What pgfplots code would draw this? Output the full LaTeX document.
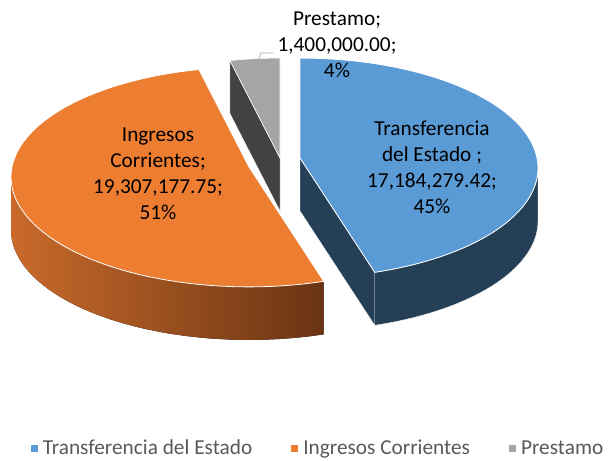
\documentclass[border=0pt]{standalone}
\usepackage{fontspec}
\setmainfont{Carlito}
\usepackage{pgfplots}
\pgfplotsset{compat=1.18}
\usepgfplotslibrary{fillbetween}

\definecolor{tBlue}{HTML}{5B9BD5}
\definecolor{tBlueS}{HTML}{253F57}
\definecolor{tOrange}{HTML}{ED7D31}
\definecolor{tOrangeL}{HTML}{C96A2B}
\definecolor{tOrangeD}{HTML}{693413}
\definecolor{tGray}{HTML}{A5A5A5}
\definecolor{tGrayS}{HTML}{424242}
\definecolor{legtext}{HTML}{595959}

% slice values
\def\vT{17184279.42}
\def\vI{19307177.75}
\def\vP{1400000.00}
\edef\sumV{\fpeval{\vT+\vI+\vP}}
\edef\aT{\fpeval{round(90-360*\vT/\sumV,4)}}  % end of Transferencia (clockwise from 12 o'clock)
\edef\aP{\fpeval{round(90+360*\vP/\sumV,4)}}  % end of Prestamo
\edef\aI{\fpeval{\aT+360}}                    % end of Ingresos

% perspective ellipse
\def\R{237}\def\B{109}\def\K{0.0909}\def\D{53}
\pgfmathdeclarefunction{px}{2}{\pgfmathparse{#1+\R*cos(#2)/(1+\K*sin(#2))}}
\pgfmathdeclarefunction{py}{2}{\pgfmathparse{#1-\B*sin(#2)/(1+\K*sin(#2))}}

% slice centres (exploded)
\def\bx{300}\def\by{158}
\def\ox{249}\def\oy{167}
\def\gx{280}\def\gy{158}

\pgfmathsetmacro{\bTx}{px(\bx,\aT)}\pgfmathsetmacro{\bTy}{py(\by,\aT)}
\pgfmathsetmacro{\bTyD}{\bTy+\D}\pgfmathsetmacro{\byD}{\by+\D}
\pgfmathsetmacro{\gTx}{px(\gx,\aP)}\pgfmathsetmacro{\gTy}{py(\gy,\aP)}
\pgfmathsetmacro{\gTyD}{\gTy+\D}\pgfmathsetmacro{\gyD}{\gy+\D}

\newcommand\lbl{\fontsize{21.3}{26}\selectfont}

\begin{document}
\begin{tikzpicture}
\begin{axis}[
  width=609pt, height=458pt, scale only axis,
  xmin=0, xmax=609, ymin=0, ymax=458, y dir=reverse,
  hide axis, clip=false,
  pie/.style={forget plot, no markers, samples=80, variable=\t},
  legend style={at={(axis cs:318,448)}, anchor=center, draw=none, fill=none,
    legend columns=3, font=\lbl, text=legtext,
    /tikz/every even column/.append style={column sep=37pt}},
  legend image code/.code={\fill[#1, draw=none] (0pt,-3.5pt) rectangle (7pt,3.5pt);
    \path[draw=none, fill=none] (0pt,0pt) -- (10pt,0pt);},
]
\path (axis cs:0,0) rectangle (axis cs:609,458);

% Prestamo
\addplot[forget plot, fill=tGrayS, draw=white, line width=0.4pt]
  coordinates {(\gx,\gy) (\gTx,\gTy) (\gTx,\gTyD) (\gx,\gyD) (\gx,\gy)};
\addplot[pie, fill=tGray, draw=white, line width=0.6pt, domain=90:\aP]
  ({px(\gx,\t)},{py(\gy,\t)}) -- (axis cs:\gx,\gy) -- cycle;

% Transferencia del Estado
\addplot[forget plot, fill=tBlueS, draw=white, line width=0.4pt]
  coordinates {(\bx,\by) (\bTx,\bTy) (\bTx,\bTyD) (\bx,\byD) (\bx,\by)};
\addplot[pie, draw=none, name path=btop, domain=\aT:-5.2] ({px(\bx,\t)},{py(\by,\t)});
\addplot[pie, draw=none, name path=bbot, domain=\aT:-5.2] ({px(\bx,\t)},{py(\by,\t)+\D});
\addplot[forget plot, fill=tBlueS, draw=white, line width=0.4pt] fill between[of=btop and bbot];
\addplot[pie, fill=tBlue, draw=white, line width=0.8pt, domain=\aT:90]
  ({px(\bx,\t)},{py(\by,\t)}) -- (axis cs:\bx,\by) -- cycle;

% Ingresos Corrientes
\addplot[pie, draw=none, name path=otop, domain=185.2:\aI] ({px(\ox,\t)},{py(\oy,\t)});
\addplot[pie, draw=none, name path=obot, domain=185.2:\aI] ({px(\ox,\t)},{py(\oy,\t)+\D});
\addplot[forget plot, left color=tOrangeL, right color=tOrangeD, draw=none] fill between[of=otop and obot];
\addplot[pie, fill=tOrange, draw=white, line width=0.8pt, domain=\aP:\aI]
  ({px(\ox,\t)},{py(\oy,\t)}) -- (axis cs:\ox,\oy) -- cycle;

% data labels
\draw[color=tGray, line width=0.6pt] (axis cs:258,61) -- (axis cs:261,53) -- (axis cs:273,53);
\node[align=center, font=\lbl, text=black] at (axis cs:337,45) {Prestamo;\\1,400,000.00;\\4\%};
\node[align=center, font=\lbl, text=black] at (axis cs:158,174) {Ingresos\\Corrientes;\\19,307,177.75;\\51\%};
\node[align=center, font=\lbl, text=black] at (axis cs:432,167) {Transferencia\\del Estado ;\\17,184,279.42;\\45\%};

\addlegendimage{fill=tBlue}\addlegendentry{Transferencia del Estado}
\addlegendimage{fill=tOrange}\addlegendentry{Ingresos Corrientes}
\addlegendimage{fill=tGray}\addlegendentry{Prestamo}
\end{axis}
\end{tikzpicture}
\end{document}
